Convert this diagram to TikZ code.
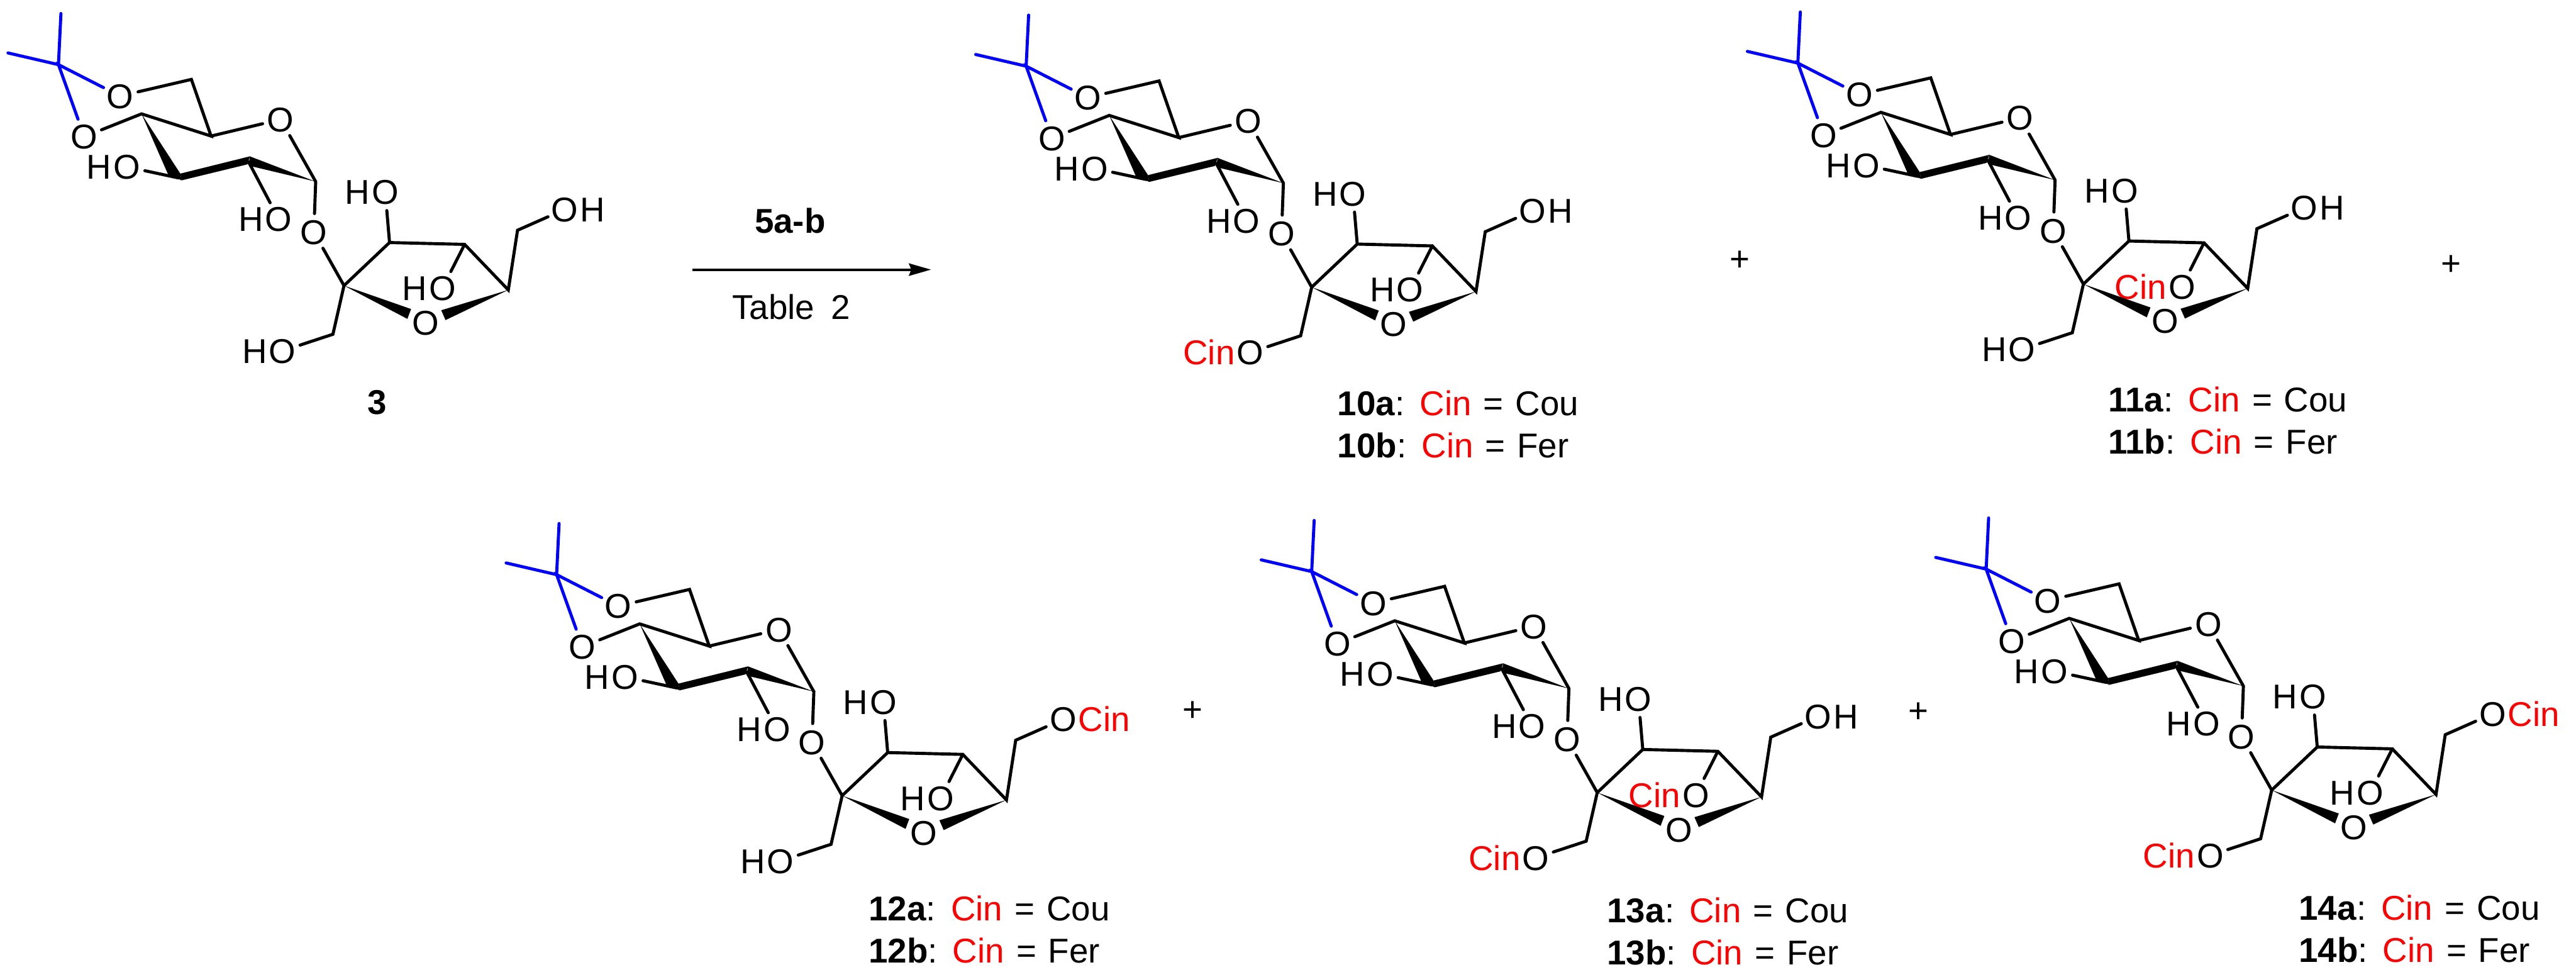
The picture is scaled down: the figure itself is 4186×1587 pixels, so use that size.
\documentclass[tikz,border=0pt]{standalone}
\usepackage{fontspec}
\setmainfont[WordSpace=1.25]{Liberation Sans}
\usetikzlibrary{positioning, arrows.meta}

\tikzset{
    bond/.style={line width=0.05cm, line cap=round},
    acetal/.style={bond, blue},
    atom/.style={circle, inner sep=0pt, font=\fontsize{15.9}{16}\selectfont, text height=0.40cm, text depth=0pt},
    extra/.style={inner sep=0pt, font=\fontsize{15.9}{16}\selectfont, text height=0.40cm, text depth=0pt},
    caption/.style={anchor=west, inner sep=0pt, font=\fontsize{15.9}{16}\selectfont}
}
\newcommand{\Cin}{\textcolor{red}{Cin}}

% #1 name, #2 x shift, #3 y shift, then what stands on the three free oxygens
\newcommand{\sucrose}[6]{
\begin{scope}[shift={(#2,#3)}, name prefix=#1-]
    % glucose ring
    \coordinate (cme) at (95,105);
    \coordinate (me1) at (99,22);
    \coordinate (me2) at (13,86);
    \coordinate (c6) at (311,129);
    \coordinate (c5) at (343,221);
    \coordinate (c4) at (230,185);
    \coordinate (c3) at (290,289);
    \coordinate (c2) at (404,263);
    \coordinate (c1) at (513,295);
    \node[atom] (o6) at (195,156) {O};
    \node[atom] (o4) at (137,222) {O};
    \node[atom] (o5) at (456,194) {O};
    \node[atom] (o3) at (206,271) {O};
    \node[atom] (o2) at (453,356) {O};
    \node[atom] (og) at (510,377) {O};
    \node[extra, left=-0.06cm of o3] (h3) {H};
    \node[extra, left=-0.06cm of o2] (h2) {H};
    \draw[acetal] (me1) -- (cme) -- (me2);
    \draw[acetal] (o6) -- (cme) -- (o4);
    \draw[bond] (o6) -- (c6) -- (c5) -- (c4) -- (o4);
    \draw[bond] (c5) -- (o5) -- (c1) -- (og);
    \draw[bond] (c3) -- (o3);
    \draw[bond] (c2) -- (o2);
    \fill (c4) -- (273,283) -- (295,293) -- (293,282) -- cycle;
    \fill (293,282) -- (406,254) -- (402,267) -- (295,293) -- cycle;
    \fill (c1) -- (406,254) -- (404,269) -- cycle;
    % fructose ring
    \coordinate (f2) at (559,464);
    \coordinate (f3) at (633,394);
    \coordinate (f4) at (755,397);
    \coordinate (f5) at (826,471);
    \coordinate (f6) at (841,374);
    \coordinate (f1) at (541,543);
    \node[atom] (fo) at (692,524) {O};
    \node[atom] (o1) at (459,570) {O};
    \node[atom] (o33) at (626,312) {O};
    \node[atom] (o44) at (719,468) {O};
    \node[atom] (o66) at (918,340) {O};
    \node[extra, left=-0.06cm of o1] (r1) {#4};
    \node[extra, left=-0.06cm of o44] (r4) {#5};
    \node[extra, right=-0.06cm of o66] (r6) {#6};
    \node[extra, left=-0.06cm of o33] (h33) {H};
    \draw[bond] (og) -- (f2) -- (f3) -- (f4) -- (f5) -- (f6) -- (o66);
    \draw[bond] (f2) -- (f1) -- (o1);
    \draw[bond] (f3) -- (o33);
    \draw[bond] (f4) -- (o44);
    \fill (f2) -- (668,502) -- (662,518) -- cycle;
    \fill (f5) -- (717,504) -- (724,520) -- cycle;
\end{scope}
}

% #1 compound, #2 x, #3 y of first line, #4 y of second line
\newcommand{\cpdlabel}[4]{
    \node[caption] (#1a) at (#2,#3) {\textbf{#1a}: \Cin{} = Cou};
    \node[caption] (#1b) at (#2,#4) {\textbf{#1b}: \Cin{} = Fer};
}

\begin{document}
\begin{tikzpicture}[x=0.01cm, y=-0.01cm]
\useasboundingbox (0,0) rectangle (4186,1587);

% starting material and arrow
\sucrose{s3}{0}{0}{H}{H}{H}
\node[extra, font=\fontsize{15.9}{16}\selectfont\bfseries] (n3) at (613,653) {3};
\coordinate (arrowstart) at (1125,438);
\coordinate (arrowend) at (1513,438);
\draw[line width=0.04cm, -{Stealth[length=0.36cm, width=0.20cm, inset=0.04cm]}] (arrowstart) -- (arrowend);
\node[extra, font=\fontsize{15.9}{16}\selectfont\bfseries] (reagent) at (1284,359) {5a-b};
\node[extra] (cond) at (1286,499) {Table\hspace{0.27cm}2};

% products, top row
\sucrose{p10}{1572.5}{2.5}{\Cin}{H}{H}
\cpdlabel{10}{2173}{655}{723}
\node[extra] (plus1) at (2827,420) {+};
\sucrose{p11}{2826.5}{-2.5}{H}{\Cin}{H}
\cpdlabel{11}{3425}{649}{717}
\node[extra] (plus2) at (3983,427) {+};

% products, bottom row
\sucrose{p12}{809.5}{828.5}{H}{H}{\Cin}
\cpdlabel{12}{1411}{1476}{1544}
\node[extra] (plus3) at (1938,1152) {+};
\sucrose{p13}{2036.5}{823.5}{\Cin}{\Cin}{H}
\cpdlabel{13}{2611}{1479}{1547}
\node[extra] (plus4) at (3117,1154) {+};
\sucrose{p14}{3132.5}{819.5}{\Cin}{H}{\Cin}
\cpdlabel{14}{3735}{1475}{1543}
\end{tikzpicture}
\end{document}
